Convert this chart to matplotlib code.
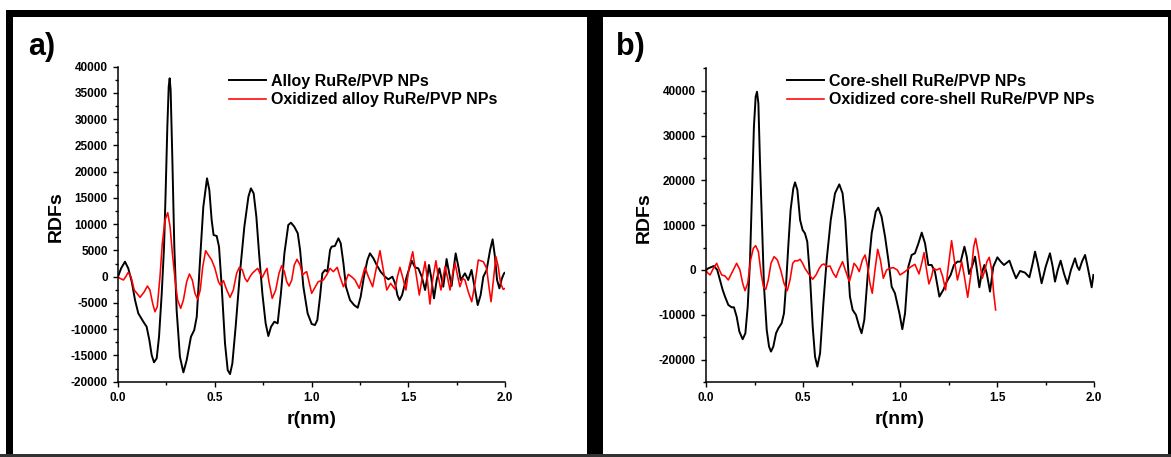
import matplotlib
matplotlib.use("Agg")
import matplotlib.pyplot as plt
from matplotlib.patches import Rectangle
from matplotlib.ticker import MultipleLocator

plt.rcParams['font.family'] = ['Liberation Sans', 'DejaVu Sans']
plt.rcParams['font.weight'] = 'bold'

# ---- data ----
# panel a) alloy
alloy_r = [0, 0.016, 0.036, 0.053, 0.071, 0.088, 0.105, 0.131, 0.148, 0.162, 0.174, 0.186, 0.200,
           0.212, 0.226, 0.238, 0.246, 0.255, 0.262, 0.267, 0.272, 0.281, 0.291, 0.303, 0.320,
           0.338, 0.355, 0.377, 0.394, 0.407, 0.424, 0.441, 0.460, 0.472, 0.484, 0.494, 0.510,
           0.522, 0.536, 0.553, 0.567, 0.579, 0.591, 0.608, 0.630, 0.653, 0.674, 0.687, 0.701,
           0.715, 0.729, 0.746, 0.763, 0.777, 0.791, 0.808, 0.825, 0.842, 0.860, 0.880, 0.894,
           0.911, 0.929, 0.941, 0.958, 0.980, 1.001, 1.018, 1.030, 1.044, 1.056, 1.070, 1.082,
           1.096, 1.104, 1.121, 1.139, 1.151, 1.165, 1.178, 1.199, 1.220, 1.239, 1.254, 1.271,
           1.289, 1.302, 1.320, 1.337, 1.357, 1.380, 1.397, 1.418, 1.432, 1.444, 1.455, 1.468,
           1.492, 1.518, 1.535, 1.552, 1.570, 1.587, 1.599, 1.607, 1.618, 1.633, 1.647, 1.661,
           1.674, 1.681, 1.690, 1.698, 1.712, 1.724, 1.736, 1.745, 1.759, 1.771, 1.793, 1.810,
           1.827, 1.845, 1.859, 1.874, 1.888, 1.905, 1.923, 1.936, 1.948, 1.959, 1.971, 1.984,
           1.995, 2.0]
alloy_g = [0, 1590, 2860, 1590, -950, -4450, -6990, -8580, -9530, -12070, -14920, -16310, -15550,
           -11430, -3170, 5720, 15880, 28580, 36200, 37790, 35570, 22230, 5720, -6360, -15250,
           -18230, -15880, -11440, -10160, -7620, 3180, 13340, 18740, 16510, 10800, 7940, 7750,
           5720, -1910, -12710, -17790, -18550, -16520, -9530, 640, 9530, 15240, 16830, 15880,
           11440, 4450, -3170, -8890, -11300, -9530, -8580, -8890, -3170, 4450, 9850, 10290,
           9530, 8260, 5090, -1910, -6990, -9010, -9210, -8260, -3820, 640, 1280, 960,
           5090, 5720, 5850, 7310, 6360, 2550, -1910, -4450, -5400, -5910, -3820, 0,
           3180, 4450, 3500, 2230, 960, 0, -500, 0, -1270, -3500, -4450, -3500,
           0, 3050, 1780, 1590, 0, -2540, 0, 2230, 0, -4130, -630, 1590,
           -630, -1910, 640, 3370, 640, -1780, 1910, 4450, 1910, -630, 640, -630,
           1280, -2540, -5400, -3500, 0, 1280, 5090, 7120, 3820, -630, -2220, -320,
           640, 770]

ox_alloy_r = [0, 0.010, 0.028, 0.040, 0.053, 0.067, 0.084, 0.114, 0.136, 0.152, 0.165, 0.179, 0.191,
              0.203, 0.217, 0.229, 0.243, 0.257, 0.269, 0.281, 0.295, 0.308, 0.324, 0.338, 0.355,
              0.369, 0.384, 0.398, 0.412, 0.425, 0.438, 0.453, 0.467, 0.484, 0.501, 0.519, 0.529,
              0.545, 0.562, 0.579, 0.596, 0.613, 0.627, 0.643, 0.656, 0.668, 0.682, 0.694, 0.708,
              0.722, 0.734, 0.746, 0.760, 0.770, 0.780, 0.797, 0.815, 0.832, 0.846, 0.860, 0.872,
              0.884, 0.898, 0.911, 0.925, 0.941, 0.954, 0.966, 0.975, 0.987, 1.001, 1.018, 1.035,
              1.061, 1.078, 1.096, 1.113, 1.133, 1.147, 1.165, 1.176, 1.190, 1.207, 1.225, 1.247,
              1.263, 1.276, 1.294, 1.316, 1.333, 1.354, 1.371, 1.389, 1.409, 1.432, 1.444, 1.457,
              1.475, 1.488, 1.505, 1.523, 1.540, 1.557, 1.573, 1.587, 1.599, 1.612, 1.626, 1.643,
              1.655, 1.669, 1.681, 1.690, 1.702, 1.716, 1.730, 1.742, 1.754, 1.767, 1.781, 1.793,
              1.810, 1.828, 1.845, 1.862, 1.888, 1.905, 1.917, 1.928, 1.940, 1.953, 1.965, 1.977,
              1.991, 2.0]
ox_alloy_g = [0, -310, -630, 0, 830, 0, -2540, -3930, -2860, -1780, -2540, -5080, -6670,
              -5720, 0, 6360, 10800, 12200, 9530, 4450, -630, -4450, -6030, -4450, -950,
              510, -630, -3180, -4320, -2540, 1910, 4950, 4130, 3180, 1590, -950, -1590,
              -760, -2540, -3930, -2540, 640, 1780, 1270, -310, -950, 0, 640, 1140,
              1590, 640, -120, 950, 1590, -950, -4130, -2540, 640, 2100, 950, -950,
              -1780, -630, 2230, 3310, 2230, 320, 760, 960, -950, -3170, -2030, -950,
              -630, 320, 1590, 960, 1780, 0, -1910, -950, 450, 0, -630, -2220,
              0, 1780, 0, -1910, 1270, 4950, 1270, -2540, -1270, -2410, 0, 1780,
              -630, -2540, 1910, 4760, 640, -3490, 0, 2860, -630, -5210, -630, 3050,
              0, -2540, 0, 1910, 0, -2540, 640, 2540, 320, -1910, -320, -630,
              -2860, -4770, -1270, 3180, 2860, 1590, -1910, -4770, -630, 3810, 1910, -1270,
              -2410, -2220]

# panel b) core-shell
cs_r = [0, 0.012, 0.041, 0.058, 0.072, 0.086, 0.098, 0.115, 0.132, 0.144, 0.158, 0.172, 0.189,
        0.203, 0.215, 0.227, 0.237, 0.247, 0.256, 0.263, 0.270, 0.278, 0.289, 0.299, 0.313,
        0.325, 0.335, 0.347, 0.361, 0.373, 0.390, 0.402, 0.412, 0.424, 0.436, 0.450, 0.459,
        0.471, 0.485, 0.498, 0.510, 0.522, 0.536, 0.550, 0.562, 0.574, 0.588, 0.605, 0.622,
        0.643, 0.665, 0.687, 0.704, 0.718, 0.730, 0.742, 0.756, 0.773, 0.790, 0.802, 0.816,
        0.833, 0.854, 0.875, 0.888, 0.905, 0.923, 0.940, 0.957, 0.974, 0.997, 1.012, 1.026,
        1.043, 1.060, 1.077, 1.095, 1.112, 1.129, 1.146, 1.163, 1.180, 1.203, 1.223, 1.241,
        1.261, 1.278, 1.296, 1.313, 1.332, 1.344, 1.356, 1.371, 1.387, 1.399, 1.409, 1.421,
        1.435, 1.447, 1.464, 1.481, 1.502, 1.519, 1.536, 1.564, 1.581, 1.598, 1.619, 1.644,
        1.667, 1.684, 1.696, 1.710, 1.730, 1.751, 1.773, 1.787, 1.799, 1.813, 1.828, 1.845,
        1.863, 1.881, 1.902, 1.914, 1.924, 1.938, 1.954, 1.967, 1.988, 1.997]
cs_g = [0, 370, 890, 0, -2230, -4460, -5950, -7800, -8330, -8330, -10410, -13750, -15460,
        -14120, -8180, 2230, 17100, 31960, 38650, 39770, 37170, 24530, 9660, -3720, -13380,
        -17100, -18210, -17100, -14120, -13010, -11890, -9660, -3720, 5200, 13380, 18210, 19550,
        17840, 11150, 8920, 8180, 6320, -1490, -12640, -19330, -21560, -18580, -7430, 2230,
        11150, 17100, 19100, 17100, 11150, 2230, -5950, -8920, -10030, -12640, -14120, -11150,
        -1490, 8180, 13010, 13900, 11890, 7430, 2230, -3720, -5200, -9660, -13230, -9660,
        740, 3350, 3720, 5950, 8330, 5950, 1110, 1110, -370, -5950, -4460, -2600,
        -1110, 1110, 1860, 1860, 5200, 2970, -890, 740, 2970, -740, -3870, -740,
        1110, -740, -4830, 740, 2820, 1860, 1110, 2080, 0, -1860, -220, -590,
        -1640, 1490, 4090, 1490, -2970, 740, 3720, 740, -2600, 0, 2080, -740,
        -3120, 0, 2600, 740, 0, 1860, 3350, 740, -3870, -1110]

ox_cs_r = [0, 0.007, 0.021, 0.038, 0.055, 0.069, 0.081, 0.098, 0.115, 0.132, 0.158, 0.175, 0.189,
           0.201, 0.215, 0.230, 0.244, 0.256, 0.270, 0.284, 0.296, 0.308, 0.321, 0.335, 0.351,
           0.368, 0.385, 0.402, 0.419, 0.433, 0.447, 0.459, 0.471, 0.485, 0.498, 0.510, 0.527,
           0.550, 0.567, 0.584, 0.596, 0.608, 0.622, 0.639, 0.656, 0.670, 0.684, 0.704, 0.718,
           0.739, 0.751, 0.763, 0.777, 0.790, 0.806, 0.820, 0.833, 0.845, 0.857, 0.871, 0.885,
           0.899, 0.914, 0.931, 0.948, 0.966, 0.986, 1.000, 1.026, 1.052, 1.077, 1.098, 1.112,
           1.124, 1.137, 1.149, 1.163, 1.172, 1.189, 1.206, 1.220, 1.235, 1.249, 1.266, 1.280,
           1.296, 1.309, 1.318, 1.332, 1.349, 1.366, 1.380, 1.390, 1.404, 1.424, 1.438, 1.448,
           1.460, 1.473, 1.483, 1.493]
ox_cs_g = [0, -590, -1110, 370, 1490, 0, -1110, -1340, -2230, -740, 1490, 0, -2970,
           -4610, -2970, 2230, 4830, 5430, 4090, -740, -3720, -4310, -2230, 1490, 2970,
           2230, 0, -2970, -4610, -2230, 1490, 2080, 2010, 2380, 1490, 370, -740,
           -2080, -1110, 370, 1110, 1340, 740, 890, -740, -1640, 0, 1860, 0,
           -2600, -740, 1490, 740, -370, 2230, 3350, 740, -2970, -5200, 0, 4610,
           2230, -1860, 0, 370, 520, 0, -1110, -370, 590, 1260, -890, 1490,
           3860, 0, -3120, -1490, 370, 0, 370, -1490, -4460, 740, 6540, 2230,
           -2230, 0, 1860, -1490, -6100, -740, 5200, 7060, 3720, -1860, 0, 1860,
           2820, 0, -5200, -8920]

W, H = 1171, 457
fig = plt.figure(figsize=(W / 100, H / 100), dpi=100)


def frac(x, y):
    return x / W, 1 - y / H


def box(x0, y0, x1, y1, color, z):
    fx0, fy1 = frac(x0, y0)
    fx1, fy0 = frac(x1, y1)
    fig.add_artist(Rectangle((fx0, fy0), fx1 - fx0, fy1 - fy0, transform=fig.transFigure,
                             facecolor=color, edgecolor='none', zorder=z))


# black frames around both panels
box(6, 10, 595, 457, 'black', -3)
box(13, 17, 587, 457, 'white', -2)
box(595, 10, 1171, 457, 'black', -3)
box(603, 17, 1168, 457, 'white', -2)
box(0, 454, 1171, 457, '#333333', -1)

panels = [
    dict(pos=(118, 505, 66.7, 381.7), ylim=(-20000, 40000), ymaj=5000, ymin=2500,
         series=[(alloy_r, alloy_g, 'black', 1.4, 'Alloy RuRe/PVP NPs'),
                 (ox_alloy_r, ox_alloy_g, 'red', 1.15, 'Oxidized alloy RuRe/PVP NPs')],
         tag='a)', tag_x=28, leg_x=229, ylab_x=56),
    dict(pos=(706, 1094, 68.3, 382), ylim=(-25000, 45000), ymaj=10000, ymin=5000,
         series=[(cs_r, cs_g, 'black', 1.4, 'Core-shell RuRe/PVP NPs'),
                 (ox_cs_r, ox_cs_g, 'red', 1.15, 'Oxidized core-shell RuRe/PVP NPs')],
         tag='b)', tag_x=616, leg_x=787, ylab_x=644),
]

for p in panels:
    x0, x1, y0, y1 = p['pos']
    fx0, fy1 = frac(x0, y0)
    fx1, fy0 = frac(x1, y1)
    ax = fig.add_axes([fx0, fy0, fx1 - fx0, fy1 - fy0])
    ax.set_facecolor('none')
    for r, g, c, lw, lab in p['series']:
        ax.plot(r, g, color=c, lw=lw, label=lab, solid_joinstyle='round')
    ax.set_xlim(0, 2.0)
    ax.set_ylim(*p['ylim'])
    ax.xaxis.set_major_locator(MultipleLocator(0.5))
    ax.xaxis.set_minor_locator(MultipleLocator(0.25))
    ax.yaxis.set_major_locator(MultipleLocator(p['ymaj']))
    ax.yaxis.set_minor_locator(MultipleLocator(p['ymin']))
    ax.xaxis.set_major_formatter(plt.FormatStrFormatter('%.1f'))
    ax.yaxis.set_major_formatter(plt.FormatStrFormatter('%d'))
    for s in ['top', 'right']:
        ax.spines[s].set_visible(False)
    for s in ['left', 'bottom']:
        ax.spines[s].set_linewidth(1.1)
    ax.tick_params(which='major', direction='out', length=3.8, width=1.0,
                   labelsize=8.5, pad=3.5)
    ax.tick_params(which='minor', direction='out', length=2.2, width=1.0)
    for t in ax.get_xticklabels() + ax.get_yticklabels():
        t.set_fontweight('bold')

    # axis titles
    cx = (x0 + x1) / 2
    fig.text(*frac(cx, 420), 'r(nm)', fontsize=14, fontweight='bold', ha='center', va='center')
    fig.text(*frac(p['ylab_x'], (y0 + y1) / 2 - 8), 'RDFs', fontsize=14, fontweight='bold',
             rotation=90, ha='center', va='center')
    fig.text(*frac(p['tag_x'], 47), p['tag'], fontsize=22, fontweight='bold',
             ha='left', va='center')

    ax.legend(loc='upper left', bbox_to_anchor=frac(p['leg_x'], 74),
              bbox_transform=fig.transFigure, frameon=False,
              borderpad=0, borderaxespad=0, handlelength=2.3, handletextpad=0.3,
              labelspacing=0.2, prop={'weight': 'bold', 'size': 11.5})

fig.savefig('out.png', dpi=100)
